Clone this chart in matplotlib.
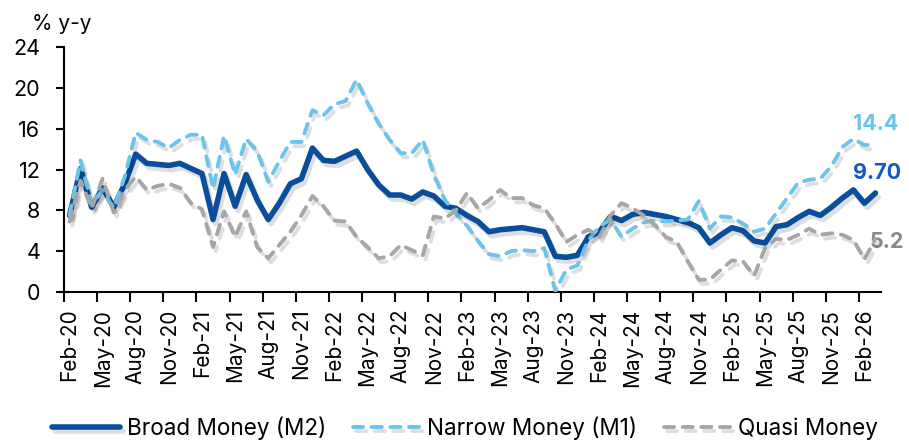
import matplotlib
matplotlib.use("Agg")
import matplotlib.pyplot as plt
import matplotlib.patheffects as pe
import numpy as np
import pandas as pd

plt.rcParams["font.family"] = ["Inter", "DejaVu Sans"]

# monthly y-y growth, Feb-20 .. Mar-26
months = pd.date_range("2020-02-01", periods=74, freq="MS")

broad_m2 = [7.5, 12.1, 8.3, 10.2, 8.3, 10.6, 13.5, 12.6, 12.5, 12.4, 12.6, 12.1,
            11.6, 7.1, 11.6, 8.4, 11.5, 9.0, 7.1, 8.7, 10.6, 11.1, 14.1, 12.9,
            12.8, 13.3, 13.8, 12.0, 10.5, 9.5, 9.5, 9.1, 9.8, 9.4, 8.4, 8.2,
            7.5, 6.9, 5.9, 6.1, 6.2, 6.3, 6.1, 5.9, 3.5, 3.4, 3.6, 5.4,
            5.9, 7.4, 7.0, 7.6, 7.8, 7.6, 7.4, 7.1, 6.8, 6.3, 4.8, 5.6,
            6.3, 6.0, 5.0, 4.8, 6.4, 6.6, 7.3, 7.9, 7.5, 8.3, 9.2, 10.0,
            8.7, 9.70]

narrow_m1 = [7.5, 12.9, 8.5, 10.0, 8.2, 11.3, 15.6, 14.9, 14.7, 14.1, 14.9, 15.4,
             15.4, 10.1, 15.3, 11.5, 15.0, 13.8, 10.8, 12.8, 14.7, 14.7, 17.8, 17.3,
             18.4, 18.7, 20.8, 18.5, 16.5, 14.9, 13.6, 13.6, 14.9, 11.5, 9.0, 7.7,
             6.5, 5.0, 3.7, 3.5, 4.0, 4.1, 4.0, 4.3, 0.1, 2.2, 2.6, 5.1,
             6.4, 7.1, 5.4, 6.2, 6.8, 7.0, 6.9, 7.0, 7.1, 8.9, 6.2, 7.4,
             7.3, 6.7, 5.9, 6.2, 7.7, 9.2, 10.7, 11.0, 11.1, 12.3, 14.2, 15.0,
             14.4, 14.4]

quasi = [6.9, 10.9, 8.2, 11.1, 7.8, 10.0, 11.3, 10.0, 10.4, 10.6, 10.2, 8.7,
         8.1, 4.4, 7.9, 5.4, 7.9, 4.4, 3.3, 4.6, 5.9, 7.5, 9.4, 8.4,
         7.0, 6.9, 5.4, 4.4, 3.3, 3.5, 4.6, 4.1, 3.6, 7.4, 7.2, 8.0,
         9.7, 8.2, 9.0, 10.0, 9.2, 9.2, 8.5, 8.2, 6.7, 4.9, 5.6, 6.1,
         5.4, 7.5, 8.7, 8.2, 7.5, 6.6, 5.4, 4.9, 3.0, 1.2, 1.2, 2.2,
         3.1, 3.0, 1.6, 4.3, 5.2, 5.1, 5.6, 6.2, 5.6, 5.75, 5.6, 5.1,
         3.2, 5.2]

tick_labels = list(months[::3].strftime("%b-%y"))

C_M2 = "#0a4e9b"
C_M1 = "#6cc4ea"
C_QM = "#a6a6a6"

fig = plt.figure(figsize=(9.09, 4.41), dpi=100)
ax = fig.add_axes([64 / 909, 1 - 292 / 441, (881 - 64) / 909, (292 - 47) / 441])

# categories sit between the tick marks
x = np.arange(len(months)) + 0.5

shadow = [pe.SimpleLineShadow(offset=(2.0, -3.0), shadow_color="black", alpha=0.13),
          pe.Normal()]

l2, = ax.plot(x, broad_m2, color=C_M2, lw=4.0, solid_capstyle="round",
              solid_joinstyle="round", path_effects=shadow, zorder=3)
l1, = ax.plot(x, narrow_m1, color=C_M1, lw=2.8, dashes=(2.6, 2.2),
              dash_capstyle="round", dash_joinstyle="round", path_effects=shadow, zorder=4)
lq, = ax.plot(x, quasi, color=C_QM, lw=2.8, dashes=(2.6, 2.2),
              dash_capstyle="round", dash_joinstyle="round", path_effects=shadow, zorder=5)

ax.set_xlim(0, len(months))
ax.set_ylim(0, 24)
ax.set_yticks(np.arange(0, 25, 4))

ax.set_xticks(np.arange(0, len(months) - 1, 3))
ax.set_xticklabels([])
ax.set_xticks(np.arange(0, len(months) - 1, 3) + 0.5, minor=True)
ax.set_xticklabels(tick_labels, minor=True, rotation=90)

ax.tick_params(axis="y", direction="out", length=6, width=1.5, labelsize=15.5, pad=11)
ax.tick_params(axis="x", which="major", direction="out", length=7, width=1.5)
ax.tick_params(axis="x", which="minor", length=0, labelsize=15, pad=12)

for s in ["top", "right"]:
    ax.spines[s].set_visible(False)
for s in ["left", "bottom"]:
    ax.spines[s].set_linewidth(1.5)

fig.text(32 / 909, 1 - 24 / 441, "% y-y", fontsize=15, va="center", ha="left")

# end-of-series values
ax.text(71.5, 16.5, f"{narrow_m1[-1]:.1f}", color=C_M1, fontsize=15.5,
        fontweight="bold", ha="left", va="center", clip_on=False)
ax.text(71.5, 11.7, f"{broad_m2[-1]:.2f}", color="#1558c0", fontsize=15.5,
        fontweight="bold", ha="left", va="center", clip_on=False)
ax.text(73.0, 4.9, f"{quasi[-1]:.1f}", color="#8a8a8a", fontsize=15.5,
        fontweight="bold", ha="left", va="center", clip_on=False)

fig.legend([l2, l1, lq], ["Broad Money (M2)", "Narrow Money (M1)", "Quasi Money"],
           loc="center", bbox_to_anchor=(0.512, 13 / 441), ncol=3, frameon=False,
           fontsize=16.2, handlelength=3.0, handletextpad=0.3, columnspacing=1.2,
           borderaxespad=0, borderpad=0)

fig.savefig("out.png", dpi=100)
